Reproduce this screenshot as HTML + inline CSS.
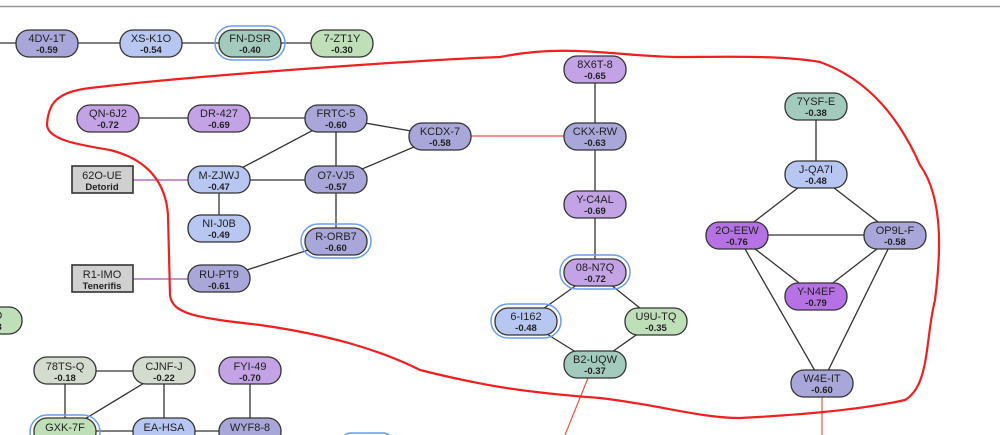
<!DOCTYPE html>
<html><head><meta charset="utf-8"><style>
html,body{margin:0;padding:0;background:#fff;width:1000px;height:435px;overflow:hidden}
text{font-family:"Liberation Sans",sans-serif;text-anchor:middle;fill:#222}
.n{font-size:11px}.v{font-size:9.5px;font-weight:bold}
</style></head><body>
<svg width="1000" height="435" viewBox="0 0 1000 435" xmlns="http://www.w3.org/2000/svg">
<line x1="0" y1="6.5" x2="1000" y2="6.5" stroke="#999" stroke-width="1.5"/>
<g stroke="#333" stroke-width="1.3">
<line x1="0" y1="43" x2="342" y2="43"/>
<line x1="108" y1="118" x2="336" y2="118"/>
<line x1="336" y1="118" x2="440" y2="136"/>
<line x1="336" y1="118" x2="219" y2="180"/>
<line x1="336" y1="118" x2="336" y2="241"/>
<line x1="440" y1="136" x2="336" y2="180"/>
<line x1="219" y1="180" x2="336" y2="180"/>
<line x1="219" y1="180" x2="219" y2="228"/>
<line x1="336" y1="241" x2="219" y2="279"/>
<line x1="65" y1="371" x2="164" y2="371"/>
<line x1="65" y1="371" x2="65" y2="431"/>
<line x1="164" y1="371" x2="65" y2="431"/>
<line x1="164" y1="371" x2="164" y2="431"/>
<line x1="250" y1="371" x2="250" y2="431"/>
<line x1="65" y1="431" x2="250" y2="431"/>
<line x1="595" y1="69" x2="595" y2="272"/>
<line x1="595" y1="272" x2="526" y2="321"/>
<line x1="595" y1="272" x2="656" y2="321"/>
<line x1="526" y1="321" x2="595" y2="364"/>
<line x1="656" y1="321" x2="595" y2="364"/>
<line x1="816" y1="106" x2="816" y2="174"/>
<line x1="816" y1="174" x2="737" y2="235"/>
<line x1="816" y1="174" x2="895" y2="235"/>
<line x1="737" y1="235" x2="895" y2="235"/>
<line x1="737" y1="235" x2="816" y2="296"/>
<line x1="895" y1="235" x2="816" y2="296"/>
<line x1="737" y1="235" x2="822" y2="383"/>
<line x1="895" y1="235" x2="822" y2="383"/>
</g>
<g stroke="#a050b0" stroke-width="1.3"><line x1="133" y1="180" x2="219" y2="180"/><line x1="133" y1="279" x2="219" y2="279"/></g>
<g stroke="#f05040" stroke-width="1.2"><line x1="440" y1="136" x2="595" y2="136"/><line x1="588" y1="378" x2="565" y2="435"/><line x1="822" y1="383" x2="822" y2="435"/></g>
<path d="M500,57 C420,60 200,75 90,88 C55,92 48,105 47,125 C48,140 80,145 110,150 C150,160 166,185 168,215 L170,295 C172,315 200,318 260,325 C330,335 380,350 420,370 C480,385 520,392 600,398 C660,405 700,418 740,418 C800,415 860,410 905,400 C930,385 925,340 935,300 C940,260 945,200 920,165 C900,120 870,80 820,62 C780,55 720,57 680,57 C620,57 570,43 500,57 Z" fill="none" stroke="#f02020" stroke-width="2.2"/>
<g stroke="#6a9cf0" stroke-width="1.5" fill="none">
<rect x="215" y="26" width="70" height="34" rx="17"/>
<rect x="301" y="224" width="70" height="34" rx="17"/>
<rect x="560" y="255" width="70" height="34" rx="17"/>
<rect x="491" y="304" width="70" height="34" rx="17"/>
<rect x="30" y="415" width="70" height="34" rx="17"/>
<rect x="341" y="433" width="52" height="20" rx="10"/>
</g>
<g stroke="#333" stroke-width="1.3">
<rect x="16" y="30" width="62" height="27" rx="13" fill="#a9a6da"/>
<rect x="120" y="30" width="62" height="27" rx="13" fill="#b7c7f2"/>
<rect x="219" y="30" width="62" height="27" rx="13" fill="#a3cbbd"/>
<rect x="311" y="30" width="62" height="27" rx="13" fill="#bfdfb9"/>
<rect x="77" y="105" width="62" height="27" rx="13" fill="#c3a3e6"/>
<rect x="188" y="105" width="62" height="27" rx="13" fill="#c3a3e6"/>
<rect x="305" y="105" width="62" height="27" rx="13" fill="#a9a6da"/>
<rect x="409" y="123" width="62" height="27" rx="13" fill="#a9a6da"/>
<rect x="72" y="166" width="61" height="27" fill="#d0d0d0" stroke-width="1.6"/>
<rect x="188" y="166" width="62" height="27" rx="13" fill="#b7c7f2"/>
<rect x="305" y="166" width="62" height="27" rx="13" fill="#a9a6da"/>
<rect x="188" y="215" width="62" height="27" rx="13" fill="#b7c7f2"/>
<rect x="305" y="228" width="62" height="27" rx="13" fill="#a9a6da"/>
<rect x="72" y="265" width="61" height="27" fill="#d0d0d0" stroke-width="1.6"/>
<rect x="188" y="265" width="62" height="27" rx="13" fill="#a9a6da"/>
<rect x="-40" y="307" width="62" height="27" rx="13" fill="#bfdfb9"/>
<rect x="34" y="357" width="62" height="27" rx="13" fill="#d4dccf"/>
<rect x="133" y="357" width="62" height="27" rx="13" fill="#d4dccf"/>
<rect x="219" y="357" width="62" height="27" rx="13" fill="#c3a3e6"/>
<rect x="34" y="418" width="62" height="27" rx="13" fill="#bfdfb9"/>
<rect x="133" y="418" width="62" height="27" rx="13" fill="#b7c7f2"/>
<rect x="219" y="418" width="62" height="27" rx="13" fill="#a9a6da"/>
<rect x="564" y="56" width="62" height="27" rx="13" fill="#c3a3e6"/>
<rect x="564" y="123" width="62" height="27" rx="13" fill="#a9a6da"/>
<rect x="564" y="191" width="62" height="27" rx="13" fill="#c3a3e6"/>
<rect x="564" y="259" width="62" height="27" rx="13" fill="#c3a3e6"/>
<rect x="495" y="308" width="62" height="27" rx="13" fill="#b7c7f2"/>
<rect x="625" y="308" width="62" height="27" rx="13" fill="#bfdfb9"/>
<rect x="564" y="351" width="62" height="27" rx="13" fill="#a3cbbd"/>
<rect x="785" y="93" width="62" height="27" rx="13" fill="#a3cbbd"/>
<rect x="785" y="161" width="62" height="27" rx="13" fill="#b7c7f2"/>
<rect x="706" y="222" width="62" height="27" rx="13" fill="#b672e4"/>
<rect x="864" y="222" width="62" height="27" rx="13" fill="#a9a6da"/>
<rect x="785" y="283" width="62" height="27" rx="13" fill="#b672e4"/>
<rect x="791" y="370" width="62" height="27" rx="13" fill="#a9a6da"/>
</g>
<g>
<text class="n" x="47" y="42">4DV-1T</text><text class="v" x="47" y="53">-0.59</text>
<text class="n" x="151" y="42">XS-K1O</text><text class="v" x="151" y="53">-0.54</text>
<text class="n" x="250" y="42">FN-DSR</text><text class="v" x="250" y="53">-0.40</text>
<text class="n" x="342" y="42">7-ZT1Y</text><text class="v" x="342" y="53">-0.30</text>
<text class="n" x="108" y="117">QN-6J2</text><text class="v" x="108" y="128">-0.72</text>
<text class="n" x="219" y="117">DR-427</text><text class="v" x="219" y="128">-0.69</text>
<text class="n" x="336" y="117">FRTC-5</text><text class="v" x="336" y="128">-0.60</text>
<text class="n" x="440" y="135">KCDX-7</text><text class="v" x="440" y="146">-0.58</text>
<text class="n" x="102" y="179">62O-UE</text><text class="v" x="102" y="190">Detorid</text>
<text class="n" x="219" y="179">M-ZJWJ</text><text class="v" x="219" y="190">-0.47</text>
<text class="n" x="336" y="179">O7-VJ5</text><text class="v" x="336" y="190">-0.57</text>
<text class="n" x="219" y="227">NI-J0B</text><text class="v" x="219" y="238">-0.49</text>
<text class="n" x="336" y="240">R-ORB7</text><text class="v" x="336" y="251">-0.60</text>
<text class="n" x="102" y="278">R1-IMO</text><text class="v" x="102" y="289">Tenerifis</text>
<text class="n" x="219" y="278">RU-PT9</text><text class="v" x="219" y="289">-0.61</text>
<text class="n" x="-9" y="319">GLD</text><text class="v" x="-9" y="330">-0.33</text>
<text class="n" x="65" y="370">78TS-Q</text><text class="v" x="65" y="381">-0.18</text>
<text class="n" x="164" y="370">CJNF-J</text><text class="v" x="164" y="381">-0.22</text>
<text class="n" x="250" y="370">FYI-49</text><text class="v" x="250" y="381">-0.70</text>
<text class="n" x="65" y="431">GXK-7F</text>
<text class="n" x="164" y="431">EA-HSA</text>
<text class="n" x="250" y="431">WYF8-8</text>
<text class="n" x="595" y="68">8X6T-8</text><text class="v" x="595" y="79">-0.65</text>
<text class="n" x="595" y="135">CKX-RW</text><text class="v" x="595" y="146">-0.63</text>
<text class="n" x="595" y="203">Y-C4AL</text><text class="v" x="595" y="214">-0.69</text>
<text class="n" x="595" y="271">08-N7Q</text><text class="v" x="595" y="282">-0.72</text>
<text class="n" x="526" y="320">6-I162</text><text class="v" x="526" y="331">-0.48</text>
<text class="n" x="656" y="320">U9U-TQ</text><text class="v" x="656" y="331">-0.35</text>
<text class="n" x="595" y="363">B2-UQW</text><text class="v" x="595" y="374">-0.37</text>
<text class="n" x="816" y="105">7YSF-E</text><text class="v" x="816" y="116">-0.38</text>
<text class="n" x="816" y="173">J-QA7I</text><text class="v" x="816" y="184">-0.48</text>
<text class="n" x="737" y="234">2O-EEW</text><text class="v" x="737" y="245">-0.76</text>
<text class="n" x="895" y="234">OP9L-F</text><text class="v" x="895" y="245">-0.58</text>
<text class="n" x="816" y="295">Y-N4EF</text><text class="v" x="816" y="306">-0.79</text>
<text class="n" x="822" y="382">W4E-IT</text><text class="v" x="822" y="393">-0.60</text>
</g>
</svg>
</body></html>
